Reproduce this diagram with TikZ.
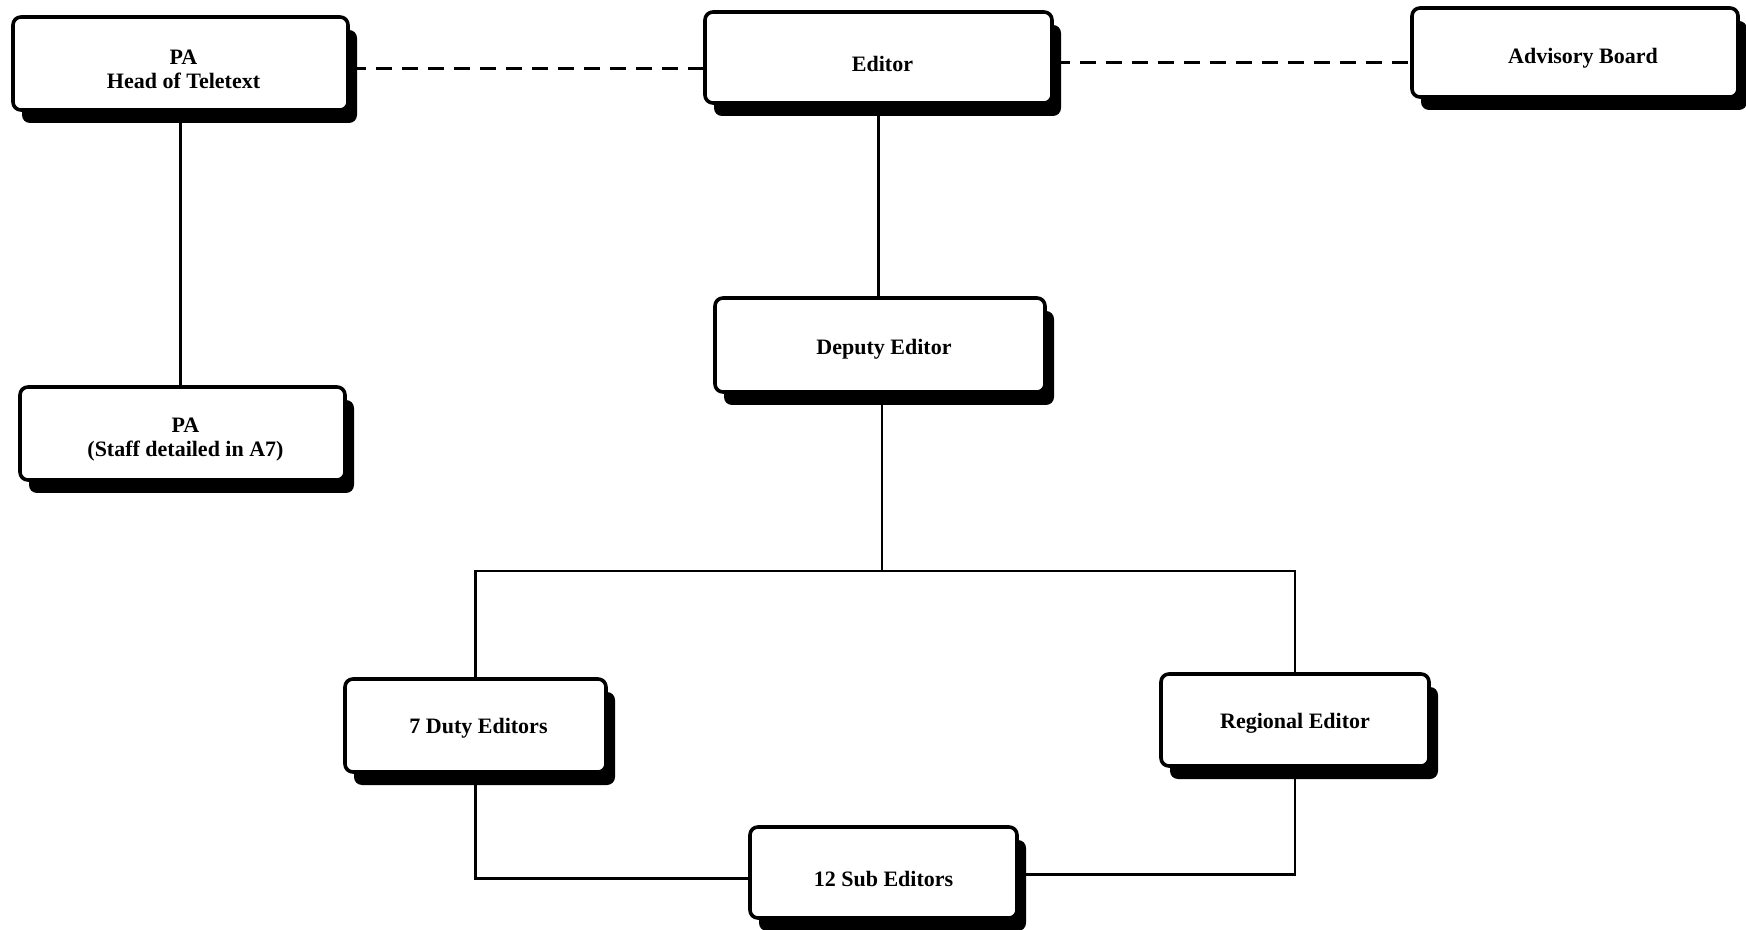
\documentclass[tikz,border=0pt]{standalone}
\usepackage{fontspec}
\setmainfont{Liberation Serif}
\usetikzlibrary{shadows}
\begin{document}
\begin{tikzpicture}[x=0.5pt,y=-0.5pt,
  box/.style={draw=black, fill=white, line width=1.8pt, rounded corners=4pt,
    drop shadow={shadow xshift=4.5pt, shadow yshift=-6.5pt, fill=black, opacity=1}},
  txt/.style={align=center, inner sep=0pt, font=\bfseries\fontsize{11}{12}\selectfont},
  link/.style={line width=1.4pt},
  dlink/.style={line width=1.4pt, dash pattern=on 8pt off 5pt}]
\useasboundingbox[fill=white] (0,0) rectangle (1746,930);
\node[box, minimum width=167.5pt, minimum height=46.5pt] (pa) at (180.5,63.5) {};
\node[box, minimum width=173.5pt, minimum height=45.5pt] (editor) at (878.5,57.5) {};
\node[box, minimum width=163pt, minimum height=44.5pt] (adv) at (1575,52.5) {};
\node[box, minimum width=165pt, minimum height=47pt] (deputy) at (880,345) {};
\node[box, minimum width=162.5pt, minimum height=46.5pt] (pastaff) at (182.5,433.5) {};
\node[box, minimum width=130.5pt, minimum height=46.5pt] (duty) at (475.5,725.5) {};
\node[box, minimum width=134pt, minimum height=46pt] (regional) at (1295,720) {};
\node[box, minimum width=133.5pt, minimum height=45.5pt] (sub) at (883.5,872.5) {};
\node[txt] (tpa) at ([xshift=1.5pt,yshift=-3pt]pa.center) {PA\\Head of Teletext};
\node[txt] (teditor) at ([xshift=2pt,yshift=-3pt]editor.center) {Editor};
\node[txt] (tadv) at ([xshift=4pt,yshift=-3pt]adv.center) {Advisory Board};
\node[txt] (tdeputy) at ([xshift=2pt,yshift=-2pt]deputy.center) {Deputy Editor};
\node[txt] (tpastaff) at ([xshift=1.5pt,yshift=-3pt]pastaff.center) {PA\\(Staff detailed in A7)};
\node[txt] (tduty) at ([xshift=1.5pt,yshift=-1.5pt]duty.center) {7 Duty Editors};
\node[txt] (tregional) at ([yshift=-1.5pt]regional.center) {Regional Editor};
\node[txt] (tsub) at ([yshift=-3pt]sub.center) {12 Sub Editors};
\coordinate (bus) at (882,571);
\draw[dlink] ([yshift=-2.5pt]pa.east) -- ([yshift=-2.5pt]pa.east -| editor.west);
\draw[dlink] ([yshift=-2.5pt]editor.east) -- ([yshift=-2.5pt]editor.east -| adv.west);
\draw[link] (pa.south) -- (pa.south |- pastaff.north);
\draw[link] (editor.south) -- (editor.south |- deputy.north);
\draw[link] (deputy.south -| bus) -- (bus);
\draw[link] (duty.north) |- (bus) -| (regional.north);
\draw[link] (duty.south) |- ([yshift=-3pt]sub.west);
\draw[link] (regional.south) |- ([yshift=-1pt]sub.east);
\end{tikzpicture}
\end{document}
